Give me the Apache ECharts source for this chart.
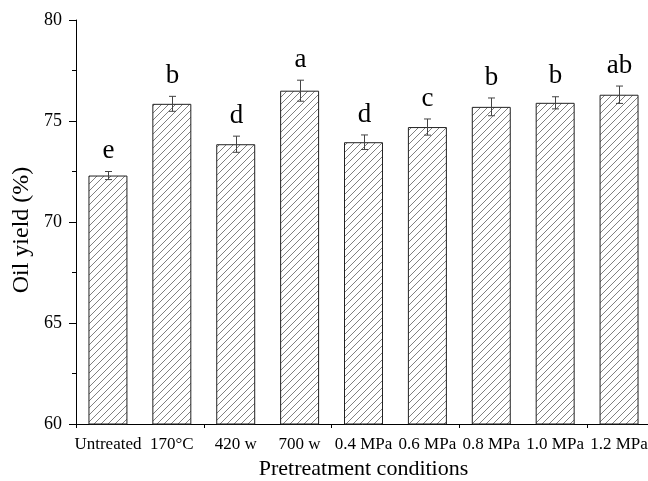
<!DOCTYPE html>
<html>
<head>
<meta charset="utf-8">
<script src="https://cdn.jsdelivr.net/npm/echarts@6/dist/echarts.min.js"></script>
<style>html,body{margin:0;padding:0;background:#fff}#c{width:648px;height:481px}</style>
</head>
<body>
<div id="c"></div>
<script>
const categories = ['Untreated', '170°C', '420 w', '700 w', '0.4 MPa', '0.6 MPa', '0.8 MPa', '1.0 MPa', '1.2 MPa'];
const values = [72.3, 75.85, 73.85, 76.5, 73.95, 74.7, 75.7, 75.9, 76.3];
const errors = [0.2, 0.37, 0.4, 0.52, 0.36, 0.4, 0.44, 0.3, 0.43];
const letters = ['e', 'b', 'd', 'a', 'd', 'c', 'b', 'b', 'ab'];
const yTicks = [60, 65, 70, 75, 80];

const FONT = '"Liberation Serif", "Times New Roman", serif';

// hatch pattern
const p = 7;
const cv = document.createElement('canvas');
cv.width = p; cv.height = p;
const cx = cv.getContext('2d');
cx.fillStyle = '#fff'; cx.fillRect(0, 0, p, p);
cx.strokeStyle = '#555'; cx.lineWidth = 0.75;
cx.beginPath();
cx.moveTo(-1, 1); cx.lineTo(1, -1);
cx.moveTo(0, p); cx.lineTo(p, 0);
cx.moveTo(p - 1, p + 1); cx.lineTo(p + 1, p - 1);
cx.stroke();

const chart = echarts.init(document.getElementById('c'), null, {renderer: 'canvas'});
const errData = values.map((v, i) => [i, v, errors[i]]);

chart.setOption({
  animation: false,
  grid: {left: 76, right: -3, top: 20, bottom: 57, containLabel: false, outerBoundsMode: 'none'},
  graphic: [{
    type: 'text',
    x: 22, y: 230,
    rotation: Math.PI / 2,
    style: {text: 'Oil yield (%)', fontFamily: FONT, fontSize: 24, fill: '#000',
      align: 'center', verticalAlign: 'middle'}
  }],
  xAxis: [{
    type: 'category',
    data: categories,
    name: 'Pretreatment conditions',
    nameLocation: 'middle',
    nameGap: 33,
    nameTextStyle: {fontFamily: FONT, fontSize: 22, color: '#000'},
    axisLine: {lineStyle: {color: '#000', width: 1}},
    axisTick: {alignWithLabel: true, length: 7, lineStyle: {color: '#000'}},
    axisLabel: {fontFamily: FONT, fontSize: 17, color: '#000', margin: 12, interval: 0},
    splitLine: {show: false}
  }, {
    type: 'category',
    data: categories,
    position: 'bottom',
    axisLine: {show: false},
    axisTick: {show: true, length: 4, lineStyle: {color: '#000'}},
    axisLabel: {show: false}
  }],
  yAxis: {
    type: 'value',
    min: yTicks[0], max: yTicks[yTicks.length - 1], interval: 5,
    axisLine: {show: true, lineStyle: {color: '#000', width: 1}},
    axisTick: {show: true, length: 7, lineStyle: {color: '#000'}},
    minorTick: {show: true, splitNumber: 2, length: 4, lineStyle: {color: '#000'}},
    axisLabel: {fontFamily: FONT, fontSize: 18, color: '#000', margin: 14},
    splitLine: {show: false}
  },
  series: [{
    type: 'bar',
    data: values,
    barWidth: '61%',
    itemStyle: {color: {image: cv, repeat: 'repeat'}, borderColor: '#222', borderWidth: 1}
  }, {
    type: 'custom',
    data: errData,
    z: 10,
    renderItem: function (params, api) {
      const i = api.value(0), v = api.value(1), e = api.value(2);
      const top = api.coord([i, v + e]);
      const bot = api.coord([i, v - e]);
      const x = Math.round(top[0]) + 0.5;
      const hw = 3.5;
      const st = {stroke: '#444', lineWidth: 1};
      return {
        type: 'group',
        children: [
          {type: 'line', shape: {x1: x, y1: top[1], x2: x, y2: bot[1]}, style: st},
          {type: 'line', shape: {x1: x - hw, y1: top[1], x2: x + hw, y2: top[1]}, style: st},
          {type: 'line', shape: {x1: x - hw, y1: bot[1], x2: x + hw, y2: bot[1]}, style: st},
          {type: 'text', x: x, y: top[1] - 7, style: {
            text: letters[params.dataIndex], fontFamily: FONT, fontSize: 27, fill: '#000',
            align: 'center', verticalAlign: 'bottom'}}
        ]
      };
    }
  }]
});
</script>
</body>
</html>
